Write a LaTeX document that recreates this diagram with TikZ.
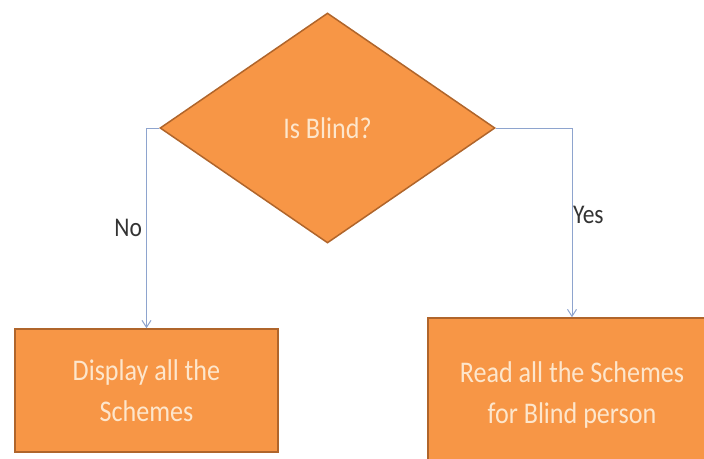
\documentclass[tikz,border=0pt]{standalone}
\usepackage{fontspec}
\setmainfont{Carlito}[FakeStretch=0.87]
\usetikzlibrary{shapes.geometric,arrows.meta}
\definecolor{boxorange}{HTML}{F79646}
\definecolor{boxedge}{HTML}{B0652B}
\definecolor{boxtext}{HTML}{FDE6CC}
\definecolor{linkblue}{HTML}{8EA4CE}
\tikzstyle{decision}=[diamond, draw=boxedge, line width=1.5pt, fill=boxorange, inner sep=0pt,
    minimum width=335pt, minimum height=230pt, text=boxtext, font=\fontsize{30}{36}\selectfont]
\tikzstyle{action}=[rectangle, draw=boxedge, line width=1.5pt, fill=boxorange, align=center,
    text=boxtext, font=\fontsize{30}{41}\selectfont]
\tikzstyle{link}=[draw=linkblue, line width=1pt, -{Straight Barb[length=7pt,width=9pt]}]
\tikzstyle{answer}=[text=black!80, font=\fontsize{27}{30}\selectfont]

\begin{document}
\begin{tikzpicture}[x=1pt, y=-1pt]
\useasboundingbox (0,0) rectangle (704,458);
\clip (0,0) rectangle (704,458);

\node[decision] (blind) at (327.5,128) {Is Blind?};
\node[action, minimum width=263pt, minimum height=123pt] (show) at (146.5,390.5) {Display all the\\Schemes};
\node[action, minimum width=288pt, minimum height=154pt] (read) at (572,395) {Read all the Schemes\\for Blind person};

\path[link] (blind.west) -| node[answer, pos=0.75, left, inner sep=4pt] {No} (show.north);
\path[link] (blind.east) -| node[answer, pos=0.73, right, inner sep=0.5pt] {Yes} (read.north);
\end{tikzpicture}
\end{document}
